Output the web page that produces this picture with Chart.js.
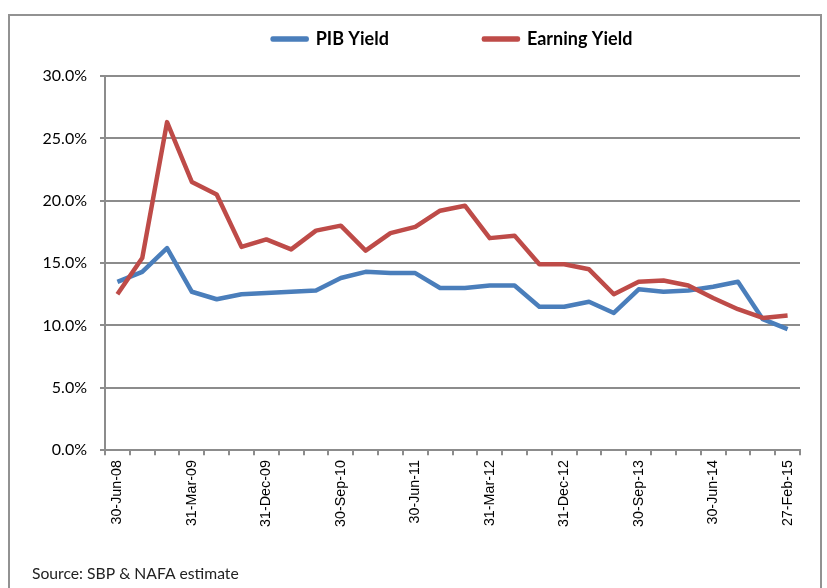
<!DOCTYPE html>
<html>
<head>
<meta charset="utf-8">
<script src="https://cdn.jsdelivr.net/npm/chart.js@4/dist/chart.umd.min.js"></script>
<style>
  body { margin: 0; background: #fff; }
  #wrap { position: relative; width: 827px; height: 588px; overflow: hidden; }
  #frame {
    position: absolute; left: 8px; top: 14px; width: 814px; height: 620px;
    box-sizing: border-box; border: 2px solid #929292; pointer-events: none;
  }
</style>
</head>
<body>
<div id="wrap">
  <canvas id="canvas" width="827" height="588"></canvas>
  <div id="frame"></div>
</div>
<script>
const dates = [
  "30-Jun-08", "30-Sep-08", "31-Dec-08", "31-Mar-09", "30-Jun-09", "30-Sep-09",
  "31-Dec-09", "31-Mar-10", "30-Jun-10", "30-Sep-10", "31-Dec-10", "31-Mar-11",
  "30-Jun-11", "30-Sep-11", "31-Dec-11", "31-Mar-12", "30-Jun-12", "30-Sep-12",
  "31-Dec-12", "31-Mar-13", "30-Jun-13", "30-Sep-13", "31-Dec-13", "31-Mar-14",
  "30-Jun-14", "30-Sep-14", "31-Dec-14", "27-Feb-15",
];
const pibYield = [
  13.5, 14.3, 16.2, 12.7, 12.1, 12.5, 12.6, 12.7, 12.8, 13.8, 14.3, 14.2, 14.2, 13.0,
  13.0, 13.2, 13.2, 11.5, 11.5, 11.9, 11.0, 12.9, 12.7, 12.8, 13.1, 13.5, 10.5, 9.7,
];
const earningYield = [
  12.5, 15.4, 26.3, 21.5, 20.5, 16.3, 16.9, 16.1, 17.6, 18.0, 16.0, 17.4, 17.9, 19.2,
  19.6, 17.0, 17.2, 14.9, 14.9, 14.5, 12.5, 13.5, 13.6, 13.2, 12.2, 11.3, 10.6, 10.8,
];
const yTicks = [0, 5, 10, 15, 20, 25, 30];

const BLUE = "#4a7ebb";
const RED = "#be4b48";
const GRID = "#8c8c8c";

// legend sits higher than Chart.js would put it, so stretch its box down to the plot top
const legendBox = {
  id: "legendBox",
  beforeInit(chart) {
    const fit = chart.legend.fit;
    chart.legend.fit = function () {
      fit.bind(chart.legend)();
      this.height = 141;
    };
  },
};

drawChart();
function drawChart() {
  const ctx = document.getElementById("canvas").getContext("2d");
  new Chart(ctx, {
    type: "line",
    data: {
      labels: dates,
      datasets: [
        {
          label: "PIB Yield",
          data: pibYield,
          borderColor: BLUE,
          backgroundColor: BLUE,
          borderWidth: 4.5,
          borderJoinStyle: "round",
          pointRadius: 0,
          tension: 0,
          order: 2,
        },
        {
          label: "Earning Yield",
          data: earningYield,
          borderColor: RED,
          backgroundColor: RED,
          borderWidth: 4.5,
          borderJoinStyle: "round",
          pointRadius: 0,
          tension: 0,
          order: 1,
        },
      ],
    },
    plugins: [legendBox],
    options: {
      responsive: false,
      animation: false,
      layout: { padding: { left: 32, right: 27, top: -65, bottom: 5 } },
      plugins: {
        tooltip: { enabled: false },
        legend: {
          position: "top",
          fullSize: false,
          labels: {
            boxWidth: 34,
            boxHeight: 1,
            padding: 95,
            color: "#000",
            font: { family: "Lato", size: 18, weight: "bold" },
            sort: (a, b) => a.datasetIndex - b.datasetIndex,
          },
        },
        subtitle: {
          display: true,
          text: "Source: SBP & NAFA estimate",
          position: "bottom",
          align: "start",
          color: "#222",
          font: { family: "Lato", size: 15.7, weight: "normal" },
          padding: { top: 34, bottom: 0 },
        },
      },
      scales: {
        x: {
          offset: true,
          grid: {
            offset: true,
            drawOnChartArea: false,
            drawTicks: true,
            tickLength: 5,
            color: GRID,
            lineWidth: 2,
          },
          border: { color: GRID, width: 2 },
          ticks: {
            autoSkip: false,
            minRotation: 90,
            maxRotation: 90,
            padding: 5,
            color: "#000",
            font: { family: "Liberation Sans", size: 14.3 },
            callback: function (value, index) {
              return index % 3 === 0 ? dates[index] : "";
            },
          },
          afterFit: (axis) => {
            axis.height = 80;
          },
        },
        y: {
          min: 0,
          max: 30,
          afterBuildTicks: (axis) => {
            axis.ticks = yTicks.map((v) => ({ value: v }));
          },
          grid: {
            color: GRID,
            lineWidth: 2,
            drawTicks: true,
            tickLength: 5,
          },
          border: { color: GRID, width: 2 },
          ticks: {
            padding: 13,
            color: "#000",
            font: { family: "Lato", size: 16 },
            callback: (value) => value.toFixed(1) + "%",
          },
          afterFit: (axis) => {
            axis.width = 73;
          },
        },
      },
    },
  });
}
</script>
</body>
</html>
